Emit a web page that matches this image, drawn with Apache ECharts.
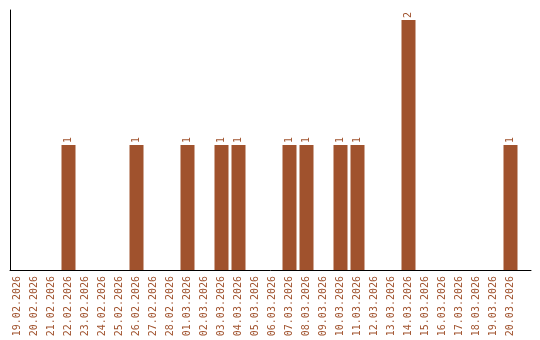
<!DOCTYPE html>
<html><head><meta charset="utf-8">
<script src="https://cdn.jsdelivr.net/npm/echarts@6/dist/echarts.min.js"></script>
<style>html,body{margin:0;padding:0;background:#fff}#c{width:540px;height:340px}</style>
</head><body><div id="c"></div>
<script>
const categories = ["19.02.2026","20.02.2026","21.02.2026","22.02.2026","23.02.2026","24.02.2026","25.02.2026","26.02.2026","27.02.2026","28.02.2026","01.03.2026","02.03.2026","03.03.2026","04.03.2026","05.03.2026","06.03.2026","07.03.2026","08.03.2026","09.03.2026","10.03.2026","11.03.2026","12.03.2026","13.03.2026","14.03.2026","15.03.2026","16.03.2026","17.03.2026","18.03.2026","19.03.2026","20.03.2026"];
const values = [0,0,0,1,0,0,0,1,0,0,1,0,1,1,0,0,1,1,0,1,1,0,0,2,0,0,0,0,0,1];

const color = '#A0522D';
const font = 'DejaVu Sans Mono';
const chart = echarts.init(document.getElementById('c'), null, {renderer:'canvas'});
chart.setOption({
  animation:false,
  grid:[
    {left:9, top:10, width:510, bottom:70},
    {left:10, top:10, right:9, bottom:70}
  ],
  xAxis:[
    {type:'category', gridIndex:0, data:categories, boundaryGap:true,
     axisLine:{show:false}, axisTick:{show:false},
     axisLabel:{rotate:90, interval:0, color:color, fontFamily:font, fontSize:10, margin:6}},
    {type:'value', gridIndex:1, min:0, max:1, axisLine:{show:true, lineStyle:{color:'#000', width:1}},
     axisTick:{show:false}, axisLabel:{show:false}, splitLine:{show:false}}
  ],
  yAxis:[
    {type:'value', gridIndex:0, min:0, max:2.08, axisLine:{show:false}, axisTick:{show:false},
     axisLabel:{show:false}, splitLine:{show:false}},
    {type:'value', gridIndex:1, min:0, max:1, axisLine:{show:true, lineStyle:{color:'#000', width:1}},
     axisTick:{show:false}, axisLabel:{show:false}, splitLine:{show:false}}
  ],
  series:[{
    type:'bar', xAxisIndex:0, yAxisIndex:0, data:values.map(v => v === 0 ? null : v), barWidth:14,
    itemStyle:{color:color},
    label:{show:true, position:'top', rotate:90, align:'left', verticalAlign:'middle', distance:2,
      color:color, fontFamily:font, fontSize:10}
  }]
});
</script></body></html>
